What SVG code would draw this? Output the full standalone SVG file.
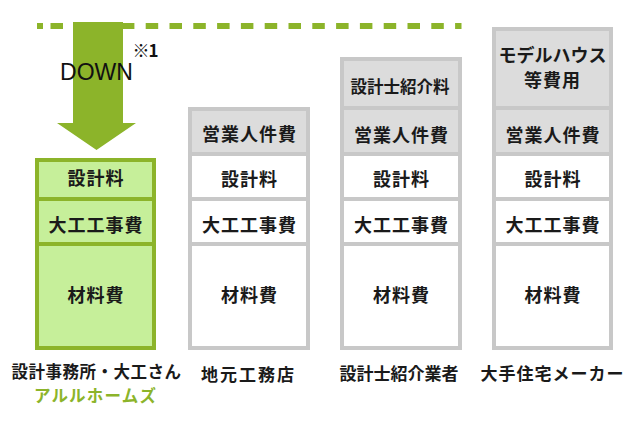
<svg xmlns="http://www.w3.org/2000/svg" width="640" height="423" viewBox="0 0 640 423">
<style>
.t{font-family:"Noto Sans CJK JP","Noto Sans",sans-serif;font-weight:bold;font-size:18px;fill:#1a1a1a;text-anchor:middle;letter-spacing:1px}
.lbl{font-family:"Noto Sans CJK JP","Noto Sans",sans-serif;font-weight:bold;font-size:17px;fill:#1a1a1a;text-anchor:middle;letter-spacing:1px}
.gb{fill:#8cb42a}
.gc{fill:#c6ef9a}
.xb{fill:#c8c8c8}
.xc{fill:#dcdcdc}
.wc{fill:#ffffff}
</style>
<rect width="640" height="423" fill="#ffffff"/>
<g id="connectors">
<rect x="37" y="23" width="6" height="6" class="gb"/>
<line x1="50.5" y1="26" x2="461.5" y2="26" stroke="#8cb42a" stroke-width="6" stroke-dasharray="12.5 11.3"/>
<polygon points="73,22 123,22 123,123 136,123 96.5,150 57,123 73,123" class="gb"/>
<text x="96.5" y="80" font-family="Liberation Sans, Arial, sans-serif" font-size="23" fill="#111" text-anchor="middle">DOWN</text>
<text x="132.5" y="56.5" font-family="Noto Sans CJK JP, Liberation Sans, sans-serif" font-size="17" font-weight="bold" fill="#111" letter-spacing="-1">※1</text>
</g>
<g id="arul">
<rect x="35" y="158" width="121" height="192" class="gb"/>
<rect x="39" y="162" width="113" height="35" class="gc"/>
<rect x="39" y="201" width="113" height="41" class="gc"/>
<rect x="39" y="246" width="113" height="100" class="gc"/>
<text class="t" x="96" y="185">設計料</text>
<text class="t" x="96" y="231.5">大工工事費</text>
<text class="t" x="96" y="301.5">材料費</text>
<text class="lbl" x="96.5" y="378" style="font-size:16.5px;letter-spacing:0.5px">設計事務所・大工さん</text>
<text class="lbl" x="95.5" y="402" style="font-size:16.5px;fill:#8cb42a;letter-spacing:1.2px">アルルホームズ</text>
</g>
<g id="jimoto">
<rect x="188" y="107" width="122" height="243" class="xb"/>
<rect x="192" y="111" width="114" height="41" class="xc"/>
<rect x="192" y="156" width="114" height="41" class="wc"/>
<rect x="192" y="201" width="114" height="41" class="wc"/>
<rect x="192" y="246" width="114" height="100" class="wc"/>
<text class="t" x="249.5" y="140.5">営業人件費</text>
<text class="t" x="249.5" y="185.5">設計料</text>
<text class="t" x="249.5" y="231.5">大工工事費</text>
<text class="t" x="249.5" y="301.5">材料費</text>
<text class="lbl" x="248.5" y="380.5" style="letter-spacing:2px">地元工務店</text>
</g>
<g id="shokai">
<rect x="340" y="57" width="122" height="293" class="xb"/>
<rect x="344" y="61" width="114" height="45" class="xc"/>
<rect x="344" y="110" width="114" height="42" class="xc"/>
<rect x="344" y="156" width="114" height="41" class="wc"/>
<rect x="344" y="201" width="114" height="41" class="wc"/>
<rect x="344" y="246" width="114" height="100" class="wc"/>
<text class="t" x="400" y="92.5" style="font-size:16.5px;letter-spacing:0">設計士紹介料</text>
<text class="t" x="401.5" y="141.5">営業人件費</text>
<text class="t" x="401.5" y="185.5">設計料</text>
<text class="t" x="401.5" y="231.5">大工工事費</text>
<text class="t" x="401.5" y="301.5">材料費</text>
<text class="lbl" x="399" y="380" style="letter-spacing:0">設計士紹介業者</text>
</g>
<g id="maker">
<rect x="492" y="27" width="121" height="323" class="xb"/>
<rect x="496" y="31" width="113" height="75" class="xc"/>
<rect x="496" y="110" width="113" height="42" class="xc"/>
<rect x="496" y="156" width="113" height="41" class="wc"/>
<rect x="496" y="201" width="113" height="41" class="wc"/>
<rect x="496" y="246" width="113" height="100" class="wc"/>
<text class="t" x="552.5" y="61.5" style="letter-spacing:0">モデルハウス</text>
<text class="t" x="552.5" y="86.5">等費用</text>
<text class="t" x="553" y="141.5">営業人件費</text>
<text class="t" x="553" y="185.5">設計料</text>
<text class="t" x="553" y="231.5">大工工事費</text>
<text class="t" x="553" y="301.5">材料費</text>
<text class="lbl" x="552.5" y="380" style="letter-spacing:1px">大手住宅メーカー</text>
</g>
</svg>
